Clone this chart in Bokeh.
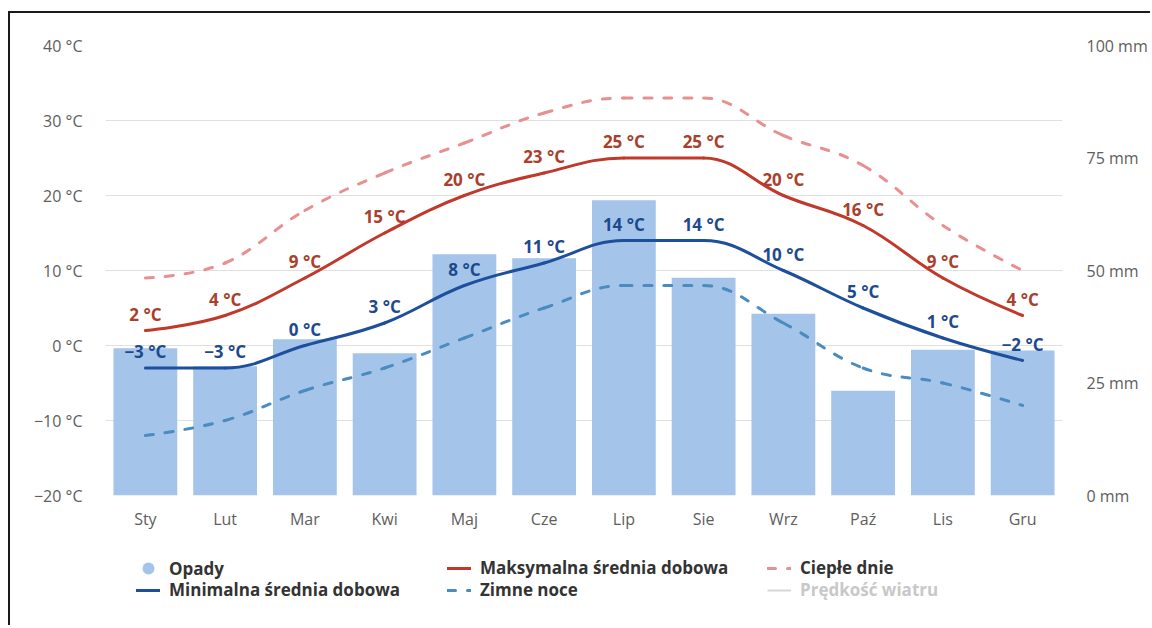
from bokeh.plotting import figure
from bokeh.layouts import column
from bokeh.models import (Range1d, LinearAxis, FixedTicker, Legend, LegendItem,
                          ColumnDataSource)
from bokeh.core.properties import value
from bokeh.embed import file_html
from bokeh.resources import INLINE

# ---------------- data ----------------
months = ["Sty", "Lut", "Mar", "Kwi", "Maj", "Cze", "Lip", "Sie", "Wrz", "Paź", "Lis", "Gru"]
precip_mm = [32.7, 28.7, 34.7, 31.6, 53.6, 52.7, 65.6, 48.4, 40.4, 23.3, 32.4, 32.2]
max_temp = [2, 4, 9, 15, 20, 23, 25, 25, 20, 16, 9, 4]
min_temp = [-3, -3, 0, 3, 8, 11, 14, 14, 10, 5, 1, -2]
warm_days = [9, 11, 18, 23, 27, 31, 33, 33, 28, 24, 16, 10]
cold_nights = [-12, -10, -6, -3, 1, 5, 8, 8, 3, -3, -5, -8]
temp_ticks = [-20, -10, 0, 10, 20, 30, 40]
mm_ticks = [0, 25, 50, 75, 100]

FONT = "Open Sans"
BAR = "#a4c4ea"
RED = "#c0392b"
RED_TXT = "#a9402c"
BLUE = "#1d4f9c"
BLUE_TXT = "#1d4a8e"
PINK = "#e8908f"
STEEL = "#4a8bc0"
DASH = "8 12"


def minus(s):
    return s.replace("-", "\u2212")


def spline(xs, ys):
    """Highcharts-style spline control points (computed from the data)."""
    n = len(xs)
    lc = [None] * n
    rc = [None] * n
    for i in range(1, n - 1):
        px, py = xs[i], ys[i]
        lx, ly = xs[i - 1], ys[i - 1]
        nx, ny = xs[i + 1], ys[i + 1]
        lcx = (1.5 * px + lx) / 2.5
        lcy = (1.5 * py + ly) / 2.5
        rcx = (1.5 * px + nx) / 2.5
        rcy = (1.5 * py + ny) / 2.5
        if rcx != lcx:
            corr = ((rcy - lcy) * (rcx - px)) / (rcx - lcx) + py - rcy
            lcy += corr
            rcy += corr
        if lcy > ly and lcy > py:
            lcy = max(ly, py); rcy = 2 * py - lcy
        elif lcy < ly and lcy < py:
            lcy = min(ly, py); rcy = 2 * py - lcy
        if rcy > ny and rcy > py:
            rcy = max(ny, py); lcy = 2 * py - rcy
        elif rcy < ny and rcy < py:
            rcy = min(ny, py); lcy = 2 * py - rcy
        lc[i] = (lcx, lcy)
        rc[i] = (rcx, rcy)
    d = dict(x0=[], y0=[], x1=[], y1=[], cx0=[], cy0=[], cx1=[], cy1=[])
    for i in range(1, n):
        a = rc[i - 1] or (xs[i - 1], ys[i - 1])
        b = lc[i] or (xs[i], ys[i])
        d["x0"].append(xs[i - 1]); d["y0"].append(ys[i - 1])
        d["x1"].append(xs[i]); d["y1"].append(ys[i])
        d["cx0"].append(a[0]); d["cy0"].append(a[1])
        d["cx1"].append(b[0]); d["cy1"].append(b[1])
    return ColumnDataSource(d)


idx = list(range(len(months)))

p = figure(width=1140, height=532, output_backend="svg", toolbar_location=None, title=None,
           x_range=Range1d(-0.5, len(months) - 0.5), y_range=Range1d(-20, 40),
           min_border_left=95, min_border_right=85, min_border_top=32, min_border_bottom=50,
           background_fill_color="white", border_fill_color="white")
p.outline_line_color = None
p.extra_y_ranges = {"mm": Range1d(0, 100)}

# axes
p.xaxis.ticker = FixedTicker(ticks=idx)
p.xaxis.major_label_overrides = {i: m for i, m in enumerate(months)}
p.yaxis.ticker = FixedTicker(ticks=temp_ticks)
p.yaxis.major_label_overrides = {t: minus(f"{t} °C") for t in temp_ticks}
for ax in (p.xaxis, p.yaxis):
    ax.axis_line_color = None
    ax.major_tick_line_color = None
    ax.minor_tick_line_color = None
    ax.major_tick_out = 0
    ax.major_label_text_font = FONT
    ax.major_label_text_font_size = "16px"
    ax.major_label_text_color = "#5e5e5e"
p.xaxis.major_label_standoff = 12
p.yaxis.major_label_standoff = 23

rax = LinearAxis(y_range_name="mm", ticker=FixedTicker(ticks=mm_ticks))
rax.major_label_overrides = {t: f"{t} mm" for t in mm_ticks}
rax.axis_line_color = None
rax.major_tick_line_color = None
rax.minor_tick_line_color = None
rax.major_tick_out = 0
rax.major_label_standoff = 24
rax.major_label_text_font = FONT
rax.major_label_text_font_size = "16px"
rax.major_label_text_color = "#5e5e5e"
p.add_layout(rax, "right")

p.xgrid.grid_line_color = None
p.ygrid.ticker = FixedTicker(ticks=temp_ticks)
p.ygrid.grid_line_color = "#e0e0e0"
p.ygrid.grid_line_width = 1

# bars (precipitation, right axis)
p.vbar(x=idx, top=precip_mm, bottom=0, width=0.8, y_range_name="mm",
       fill_color=BAR, line_color=None)


def curve(ys, color, dash=None):
    kw = dict(line_color=color, line_width=3, line_cap="round")
    if dash:
        kw["line_dash"] = dash
    return p.bezier(source=spline(idx, ys), x0="x0", y0="y0", x1="x1", y1="y1",
                    cx0="cx0", cy0="cy0", cx1="cx1", cy1="cy1", **kw)


curve(warm_days, PINK, DASH)
curve(cold_nights, STEEL, DASH)
curve(max_temp, RED)
curve(min_temp, BLUE)

# data labels
p.text(x=idx, y=max_temp, text=[minus(f"{v} °C") for v in max_temp],
       text_font=value(FONT), text_font_size="17px", text_font_style="bold",
       text_color=RED_TXT, text_align="center", text_baseline="bottom", y_offset=-5)
p.text(x=idx, y=min_temp, text=[minus(f"{v} °C") for v in min_temp],
       text_font=value(FONT), text_font_size="17px", text_font_style="bold",
       text_color=BLUE_TXT, text_align="center", text_baseline="bottom", y_offset=-5)

# ---------------- legend strip (separate figure below, frame aligned with p) ----------------
LH = 80
lf = figure(width=1140, height=LH, output_backend="svg", toolbar_location=None, title=None,
            x_axis_type=None, y_axis_type=None,
            x_range=Range1d(-0.5, len(months) - 0.5), y_range=Range1d(1000, 1001),
            min_border=0, background_fill_color="white", border_fill_color="white")
lf.outline_line_color = None
lf.xgrid.visible = False
lf.ygrid.visible = False

# legend-only renderers: same series, but outside the strip's (empty) visible range
opady_proxy = lf.scatter(x=idx, y=precip_mm, marker="circle", size=12, fill_color=BAR, line_color=None)
min_proxy = lf.line(x=idx, y=min_temp, line_color=BLUE, line_width=3, line_cap="round")
max_proxy = lf.line(x=idx, y=max_temp, line_color=RED, line_width=3, line_cap="round")
cold_proxy = lf.line(x=idx, y=cold_nights, line_color=STEEL, line_width=3, line_cap="round",
                     line_dash=DASH)
warm_proxy = lf.line(x=idx, y=warm_days, line_color=PINK, line_width=3, line_cap="round",
                     line_dash=DASH)
wind_proxy = lf.line(x=idx, y=max_temp, line_color="#d6d6d6", line_width=2)  # hidden series


def add_leg(label, rend, vx, vy, gh, gw=24, standoff=9, color="#333333"):
    lg = Legend(items=[LegendItem(label=label, renderers=[rend])], location=(vx, vy),
                orientation="vertical", padding=0, margin=0, spacing=0,
                border_line_color=None, background_fill_alpha=0,
                glyph_width=gw, glyph_height=gh, label_height=gh, label_standoff=standoff,
                label_text_font=FONT, label_text_font_size="17px",
                label_text_font_style="bold", label_text_color=color)
    lf.add_layout(lg, "center")


row1, row2 = 23, 45  # centre of rows, px from top of strip
add_leg("Opady", opady_proxy, 28, LH - row1 - 15, 30, gw=30, standoff=6)
add_leg("Minimalna średnia dobowa", min_proxy, 31, LH - row2 - 11, 22)
add_leg("Maksymalna średnia dobowa", max_proxy, 342, LH - row1 - 11, 22)
add_leg("Zimne noce", cold_proxy, 342, LH - row2 - 11, 22)
add_leg("Ciepłe dnie", warm_proxy, 662, LH - row1 - 11, 22)
add_leg("Prędkość wiatru", wind_proxy, 662, LH - row2 - 11, 22, color="#c8c8c8")

layout = column(p, lf, spacing=0,
                styles={"border-left": "2px solid #1a1a1a", "border-top": "2px solid #1a1a1a",
                        "margin-left": "8px", "margin-top": "11px"})

open("out.html", "w").write(file_html(layout, INLINE))
